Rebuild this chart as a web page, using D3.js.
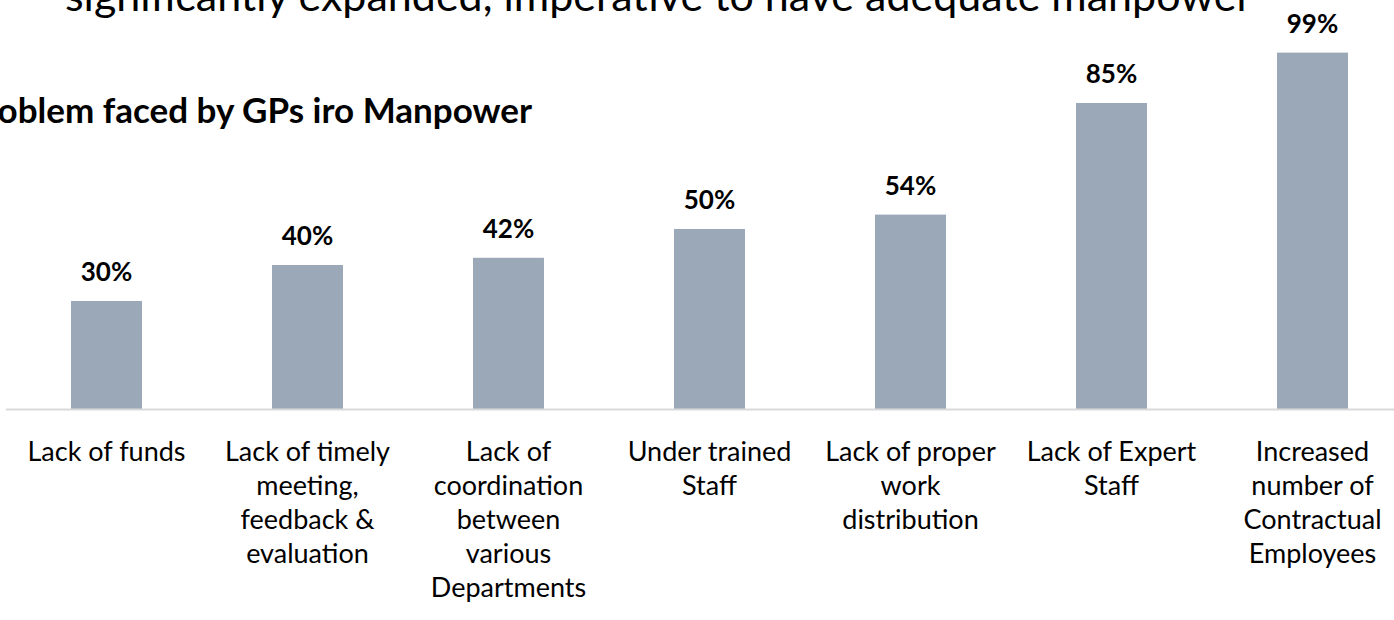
<!DOCTYPE html>
<html>
<head>
<meta charset="utf-8">
<script src="https://cdn.jsdelivr.net/npm/d3@7"></script>
<style>
  body { margin: 0; background: #fff; }
  svg { display: block; font-family: Lato, "Noto Sans", sans-serif; }
</style>
</head>
<body>
<div id="chart"></div>
<script>
// chart data
var categories = [
  "Lack of funds",
  "Lack of timely meeting, feedback & evaluation",
  "Lack of coordination between various Departments",
  "Under trained Staff",
  "Lack of proper work distribution",
  "Lack of Expert Staff",
  "Increased number of Contractual Employees"
];
// how the labels break in the picture
var labelLines = [
  ["Lack of funds"],
  ["Lack of timely", "meeting,", "feedback &", "evaluation"],
  ["Lack of", "coordination", "between", "various", "Departments"],
  ["Under trained", "Staff"],
  ["Lack of proper", "work", "distribution"],
  ["Lack of Expert", "Staff"],
  ["Increased", "number of", "Contractual", "Employees"]
];
var values = [0.30, 0.40, 0.42, 0.50, 0.54, 0.85, 0.99];

var titleText = "significantly expanded, imperative to have adequate manpower";
var subtitleText = "Problem faced by GPs iro Manpower";

var width = 1394, height = 620;
var baseY = 409;

var svg = d3.select('#chart')
  .append('svg')
  .attr('width', width)
  .attr('height', height);

var x = d3.scaleBand()
  .domain(categories)
  .range([6, 1413])
  .paddingInner(0.647)
  .paddingOuter(0.3235);

var y = d3.scaleLinear()
  .domain([0, 1])
  .range([baseY, baseY - 360]);

let pct = d3.format(".0%");

// title, clipped at the top like the slide
svg.append('text')
  .attr('x', 65)
  .attr('y', 11)
  .style('font-size', '43px')
  .style('fill', '#000')
  .text(titleText);

// subtitle, its start runs off the left edge (as in the slide)
svg.append('text')
  .attr('x', 532)
  .attr('y', 123)
  .attr('text-anchor', 'end')
  .style('font-size', '35px')
  .style('font-weight', 'bold')
  .style('fill', '#000')
  .text(subtitleText);

var data = categories.map(function(c, i) {
  return { cat: c, value: values[i], lines: labelLines[i] };
});

svg.selectAll('.bar')
  .data(data)
  .enter()
  .append('rect')
  .classed('bar', true)
  .attr('x', function(d) { return x(d.cat); })
  .attr('y', function(d) { return y(d.value); })
  .attr('width', x.bandwidth())
  .attr('height', function(d) { return baseY - y(d.value); })
  .style('fill', '#9AA8B8');

// axis line
svg.append('line')
  .attr('x1', x.range()[0])
  .attr('x2', x.range()[1])
  .attr('y1', baseY + 0.5)
  .attr('y2', baseY + 0.5)
  .style('stroke', '#D9D9D9')
  .style('stroke-width', '2px');

svg.selectAll('.value-label')
  .data(data)
  .enter()
  .append('text')
  .classed('value-label', true)
  .attr('x', function(d) { return x(d.cat) + x.bandwidth() / 2; })
  .attr('y', function(d) { return y(d.value) - 20; })
  .attr('text-anchor', 'middle')
  .style('font-size', '26px')
  .style('font-weight', 'bold')
  .style('fill', '#000')
  .text(function(d) { return pct(d.value); });

var catLabels = svg.selectAll('.cat-label')
  .data(data)
  .enter()
  .append('text')
  .classed('cat-label', true)
  .attr('text-anchor', 'middle')
  .style('font-size', '27px')
  .style('fill', '#000');

catLabels.selectAll('tspan')
  .data(function(d) {
    return d.lines.map(function(l) { return { cat: d.cat, line: l }; });
  })
  .enter()
  .append('tspan')
  .attr('x', function(d) { return x(d.cat) + x.bandwidth() / 2; })
  .attr('y', function(d, i) { return 461 + i * 34; })
  .text(function(d) { return d.line; });
</script>
</body>
</html>
